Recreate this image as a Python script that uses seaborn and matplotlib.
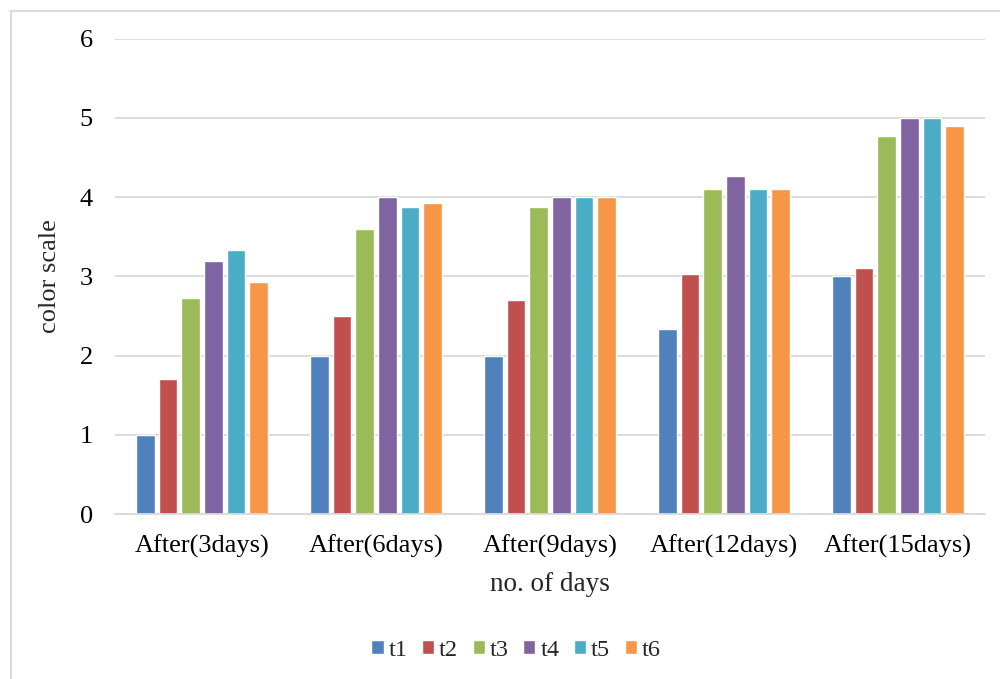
import matplotlib
matplotlib.use("Agg")
import matplotlib.pyplot as plt
import matplotlib.lines as mlines
import seaborn as sns
import pandas as pd

categories = ["After(3days)", "After(6days)", "After(9days)", "After(12days)", "After(15days)"]
series = ["t1", "t2", "t3", "t4", "t5", "t6"]
t1 = [1.0, 2.0, 2.0, 2.33, 3.0]
t2 = [1.7, 2.5, 2.7, 3.03, 3.1]
t3 = [2.73, 3.6, 3.87, 4.1, 4.77]
t4 = [3.2, 4.0, 4.0, 4.27, 5.0]
t5 = [3.33, 3.87, 4.0, 4.1, 5.0]
t6 = [2.93, 3.93, 4.0, 4.1, 4.9]
colors = ["#4F81BD", "#C0504D", "#9BBB59", "#8064A2", "#4BACC6", "#F79646"]

rows = []
for name, vals in zip(series, [t1, t2, t3, t4, t5, t6]):
    for cat, v in zip(categories, vals):
        rows.append({"days": cat, "series": name, "value": v})
df = pd.DataFrame(rows)

sns.set_theme(style="white")
plt.rcParams["font.family"] = ["Liberation Serif", "DejaVu Serif"]

fig = plt.figure(figsize=(10, 6.79), dpi=100)
ax = fig.add_axes([0.115, 0.243, 0.87, 0.7])

sns.barplot(data=df, x="days", y="value", hue="series", order=categories,
            hue_order=series, palette=colors, width=0.78, gap=0.17,
            saturation=1, ax=ax, legend=True)

ax.set_ylim(0, 6)
ax.set_yticks(range(0, 7))
ax.yaxis.grid(True, color="#D9D9D9", linewidth=1.3)
ax.set_axisbelow(True)
for s in ["top", "right", "left"]:
    ax.spines[s].set_visible(False)
ax.spines["bottom"].set_color("#D9D9D9")
ax.spines["bottom"].set_linewidth(1.3)
ax.tick_params(axis="both", length=0, labelsize=19, colors="black")
ax.tick_params(axis="x", pad=15)
ax.tick_params(axis="y", pad=16)
ax.set_xlabel("no. of days", fontsize=19.5, labelpad=10)
ax.set_ylabel("color scale", fontsize=19, labelpad=13)

handles, labels = ax.get_legend_handles_labels()
ax.legend(handles, labels, loc="center", bbox_to_anchor=(0.516, 1 - 650 / 679),
          bbox_transform=fig.transFigure, ncol=6, frameon=False, fontsize=17.5,
          handlelength=0.5, handleheight=0.5, handletextpad=0.2,
          columnspacing=0.6, borderpad=0)

# Light frame along the top and left edges of the chart area
frame_kw = dict(transform=fig.transFigure, color="#D9D9D9", linewidth=1.5)
fig.add_artist(mlines.Line2D([0.01, 1.0], [1 - 10.5 / 679] * 2, **frame_kw))
fig.add_artist(mlines.Line2D([0.0105, 0.0105], [0.0, 1 - 10.5 / 679], **frame_kw))

fig.savefig("out.png", dpi=100)
